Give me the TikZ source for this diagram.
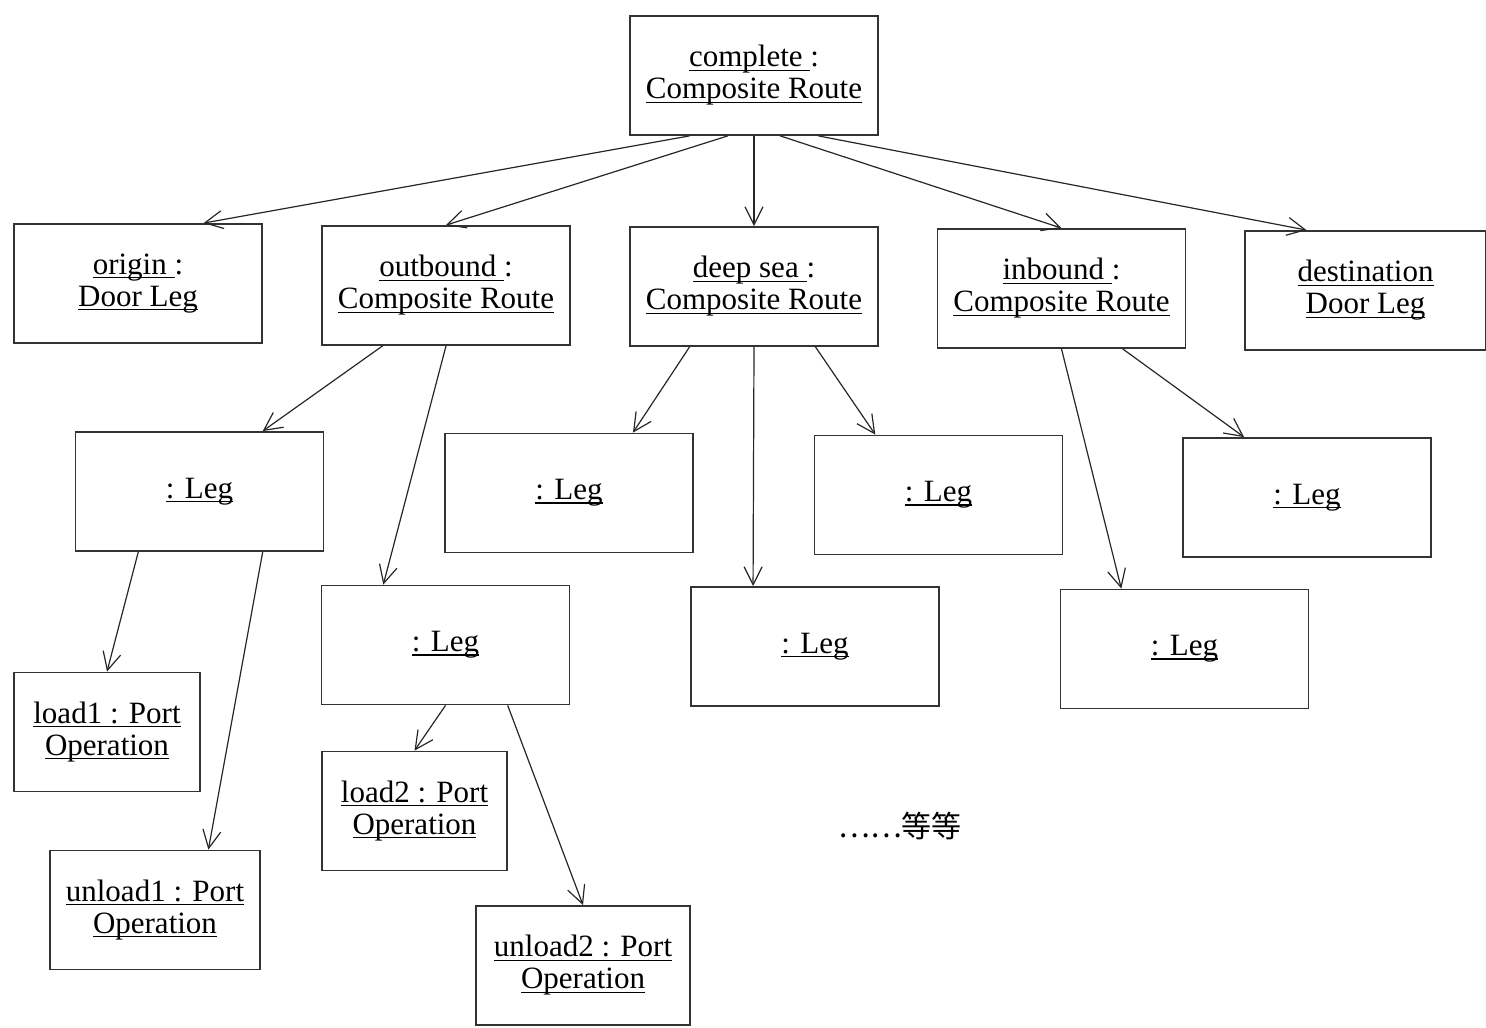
\documentclass[tikz,border=0pt]{standalone}
\usepackage{fontspec}
\setmainfont{Liberation Serif}
\newfontfamily\cjk{Noto Sans CJK SC}
\usetikzlibrary{arrows.meta,calc}
\tikzset{
  obj/.style={draw=black!80,line width=0.9pt,fill=white,inner sep=0pt,
    minimum width=124pt,minimum height=59.5pt,align=center,
    font=\fontsize{15.5}{16}\selectfont},
  arr/.style={line width=0.6pt,black!85,-{Straight Barb[length=9pt,width=9pt,line width=0.6pt]}},
}
\newsavebox{\ulbox}
\newcommand{\ul}[1]{\sbox{\ulbox}{#1}\rlap{\usebox{\ulbox}}\rule[-2pt]{\wd\ulbox}{0.7pt}}
\begin{document}
\begin{tikzpicture}[x=0.5pt,y=-0.5pt]
\useasboundingbox (0,0) rectangle (1486,1027);
% row 0
\node[obj] (complete) at (754,75.5) {\ul{complete }:\\\ul{Composite Route}};
% row 1
\node[obj] (origin) at (138,283.5) {\ul{origin }:\\\ul{Door Leg}};
\node[obj] (outbound) at (446,285.5) {\ul{outbound }:\\\ul{Composite Route}};
\node[obj] (deepsea) at (754,286.5) {\ul{deep sea }:\\\ul{Composite Route}};
\node[obj] (inbound) at (1061.5,288.5) {\ul{inbound }:\\\ul{Composite Route}};
\node[obj,minimum width=120.5pt] (destination) at (1365.5,290.5) {\ul{destination}\\\ul{Door Leg}};
% row 2
\node[obj] (legA) at (199.5,491.5) {\ul{: Leg}};
\node[obj] (legB) at (569,493) {\ul{: Leg}};
\node[obj] (legC) at (938.5,495) {\ul{: Leg}};
\node[obj] (legD) at (1307,497.5) {\ul{: Leg}};
% row 3
\node[obj] (legE) at (445.5,645) {\ul{: Leg}};
\node[obj] (legF) at (815,646.5) {\ul{: Leg}};
\node[obj] (legG) at (1184.5,649) {\ul{: Leg}};
% port operations
\node[obj,minimum width=93pt] (load1) at (107,732) {\ul{load1 : Port}\\\ul{Operation}};
\node[obj,minimum width=105pt] (unload1) at (155,910) {\ul{unload1 : Port}\\\ul{Operation}};
\node[obj,minimum width=92.5pt] (load2) at (414.5,811) {\ul{load2 : Port}\\\ul{Operation}};
\node[obj,minimum width=107pt] (unload2) at (583,965.5) {\ul{unload2 : Port}\\\ul{Operation}};
% etc
\node[font=\cjk\fontsize{15}{16}\selectfont,inner sep=0pt] (etc) at (900,826) {……等等};
% connectors
\draw[arr] ($(complete.south west)!.242!(complete.south east)$) -- ($(origin.north west)!.762!(origin.north east)$);
\draw[arr] ($(complete.south west)!.395!(complete.south east)$) -- (outbound.north);
\draw[arr] (complete.south) -- (deepsea.north);
\draw[arr] ($(complete.south west)!.605!(complete.south east)$) -- (inbound.north);
\draw[arr] ($(complete.south west)!.758!(complete.south east)$) -- ($(destination.north west)!.257!(destination.north east)$);
\draw[arr] ($(outbound.south west)!.246!(outbound.south east)$) -- ($(legA.north west)!.753!(legA.north east)$);
\draw[arr] (outbound.south) -- ($(legE.north west)!.251!(legE.north east)$);
\draw[arr] ($(deepsea.south west)!.242!(deepsea.south east)$) -- ($(legB.north west)!.756!(legB.north east)$);
\draw[arr] (deepsea.south) -- ($(legF.north west)!.252!(legF.north east)$);
\draw[arr] ($(deepsea.south west)!.746!(deepsea.south east)$) -- ($(legC.north west)!.247!(legC.north east)$);
\draw[arr] (inbound.south) -- ($(legG.north west)!.247!(legG.north east)$);
\draw[arr] ($(inbound.south west)!.745!(inbound.south east)$) -- ($(legD.north west)!.248!(legD.north east)$);
\draw[arr] ($(legA.south west)!.255!(legA.south east)$) -- (load1.north);
\draw[arr] ($(legA.south west)!.753!(legA.south east)$) -- ($(unload1.north west)!.752!(unload1.north east)$);
\draw[arr] (legE.south) -- (load2.north);
\draw[arr] ($(legE.south west)!.749!(legE.south east)$) -- (unload2.north);
\end{tikzpicture}
\end{document}
